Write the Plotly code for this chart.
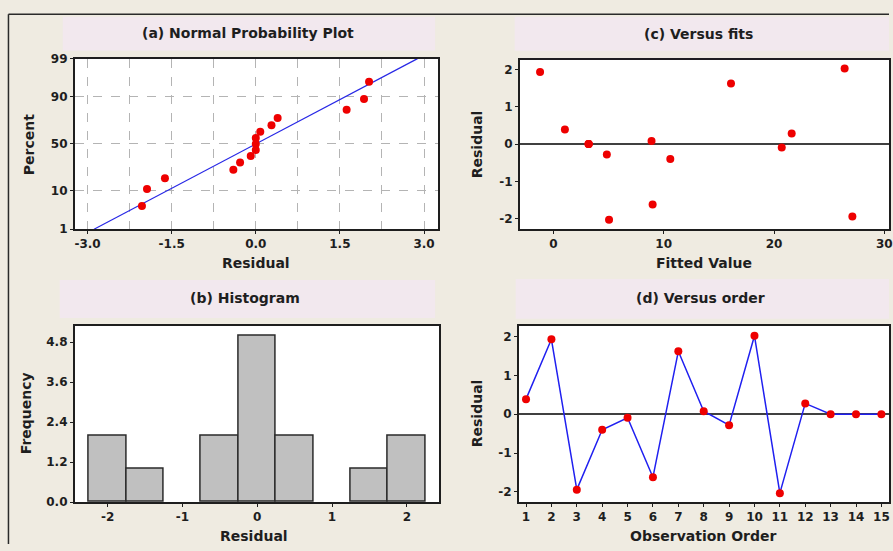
import plotly.graph_objects as go
from statistics import NormalDist

# ---------------- data ----------------
order = list(range(1, 16))
residuals = [0.39, 1.93, -1.94, -0.40, -0.09, -1.62, 1.62, 0.08, -0.28, 2.02, -2.03, 0.28, 0.0, 0.0, 0.0]
fitted = [1.05, -1.2, 27.1, 10.6, 20.7, 9.0, 16.1, 8.9, 4.85, 26.4, 5.05, 21.6, 3.2, 3.2, 3.2]

# normal probability plot (percent, sorted residuals)
prob_residuals = sorted(residuals)
prob_percent = [4.5, 11.0, 17.5, 24.0, 30.5, 37.0, 43.5, 50.0, 56.5, 63.0, 69.5, 76.0, 82.5, 89.0, 95.5]
fit_mean = 0.0
fit_sd = 1.24
fit_percent_ends = [1, 99]
percent_ticks = [1, 10, 50, 90, 99]

# histogram bins
hist_start, hist_end, hist_size = -2.25, 2.25, 0.5
freq_ticks = [0.0, 1.2, 2.4, 3.6, 4.8]

# ---------------- styling ----------------
W, H = 893, 551
BG = "#efebe1"
PINK = "#f2e8ee"
DARK = "#1e1e1e"
FONT = "DejaVu Sans"
TICKFONT = dict(family=FONT, size=12, color=DARK, weight="bold")
TITLEFONT = dict(family=FONT, size=14, color=DARK, weight="bold")

nd = NormalDist()
def z(p):
    return nd.inv_cdf(p / 100.0)

def px(x):
    return x / W

def py(y):
    return 1 - y / H

fig = go.Figure()

# (a) Normal probability plot
fig.add_trace(go.Scatter(
    x=[fit_mean + fit_sd * z(p) for p in fit_percent_ends],
    y=[z(p) for p in fit_percent_ends],
    mode="lines", line=dict(color="#2828e6", width=1.2),
    xaxis="x", yaxis="y", showlegend=False, hoverinfo="skip"))
fig.add_trace(go.Scatter(
    x=prob_residuals, y=[z(p) for p in prob_percent],
    mode="markers", marker=dict(color="#ee0000", size=8),
    xaxis="x", yaxis="y", showlegend=False))

# (c) Versus fits
fig.add_trace(go.Scatter(
    x=fitted, y=residuals, mode="markers",
    marker=dict(color="#ee0000", size=8),
    xaxis="x2", yaxis="y2", showlegend=False))

# (b) Histogram
fig.add_trace(go.Histogram(
    x=residuals,
    xbins=dict(start=hist_start, end=hist_end, size=hist_size),
    marker=dict(color="#c0c0c0", line=dict(color="#2a2a2a", width=1.5)),
    xaxis="x3", yaxis="y3", showlegend=False))

# (d) Versus order
fig.add_trace(go.Scatter(
    x=order, y=residuals, mode="lines+markers",
    line=dict(color="#2020f0", width=1.5),
    marker=dict(color="#ee0000", size=8),
    xaxis="x4", yaxis="y4", showlegend=False))

def ax(domain, rng, **kw):
    d = dict(domain=domain, range=rng, showline=True, mirror=True,
             linecolor=DARK, linewidth=1.5, ticks="outside", ticklen=3,
             tickcolor=DARK, tickwidth=1, tickfont=TICKFONT,
             showgrid=False, zeroline=False, ticklabeloverflow="allow")
    d.update(kw)
    return d

res_ticks = [-2, -1, 0, 1, 2]
res_text = ["-2", "-1", "0", "1", "2"]
a_xticks = [-3.0, -1.5, 0.0, 1.5, 3.0]

fig.update_layout(
    width=W, height=H,
    margin=dict(l=0, r=0, t=0, b=0),
    paper_bgcolor=BG, plot_bgcolor="white",
    bargap=0,
    xaxis=ax([px(75), px(440)], [-3.23, 3.25],
             tickvals=a_xticks, ticktext=["-3.0", "-1.5", "0.0", "1.5", "3.0"],
             showgrid=True, gridcolor="#b4b4b4", griddash="dash", gridwidth=1,
             minor=dict(dtick=0.75, tick0=0, showgrid=True, gridcolor="#b4b4b4",
                        griddash="dash", gridwidth=1, ticks="")),
    yaxis=ax([py(228), py(53)], [z(1), z(99)],
             tickvals=[z(p) for p in percent_ticks],
             ticktext=[str(p) for p in percent_ticks],
             showgrid=True, gridcolor="#b4b4b4", griddash="dash", gridwidth=1),
    xaxis2=ax([px(522), 1.0], [-3.05, 30.42], tickvals=[0, 10, 20, 30],
              ticktext=["0", "10", "20", "30"], anchor="y2"),
    yaxis2=ax([py(228), py(54)], [-2.28, 2.26], tickvals=res_ticks, ticktext=res_text,
              anchor="x2", zeroline=True, zerolinecolor="#404040", zerolinewidth=1.5),
    xaxis3=ax([px(75), px(441)], [-2.44, 2.43], tickvals=res_ticks, ticktext=res_text,
              anchor="y3"),
    yaxis3=ax([py(508), py(327)], [0, 5.29], tickvals=freq_ticks,
              ticktext=["%.1f" % v for v in freq_ticks], anchor="x3"),
    xaxis4=ax([px(521), 1.0], [0.71, 15.3], tickvals=order,
              ticktext=[str(o) for o in order], anchor="y4"),
    yaxis4=ax([py(508), py(327)], [-2.26, 2.28], tickvals=res_ticks, ticktext=res_text,
              anchor="x4", zeroline=True, zerolinecolor="#404040", zerolinewidth=1.5),
)

shapes = []
# pink title bands
for (x0, x1, y0, y1) in [(63, 437, 10, 45), (517, 893, 10, 45),
                         (60, 437, 280, 319), (518, 893, 279, 320)]:
    shapes.append(dict(type="rect", xref="paper", yref="paper",
                       x0=px(x0), x1=px(x1), y0=py(y1), y1=py(y0),
                       fillcolor=PINK, line=dict(width=0), layer="below"))
# outer frame lines
shapes.append(dict(type="line", xref="paper", yref="paper", x0=px(8.5), x1=px(8.5),
                   y0=0, y1=py(7.5), line=dict(color="#2a2a2a", width=1.5)))
shapes.append(dict(type="line", xref="paper", yref="paper", x0=px(8.5), x1=1,
                   y0=py(7.5), y1=py(7.5), line=dict(color="#2a2a2a", width=1.5)))
fig.update_layout(shapes=shapes)

annotations = []
def txt(text, x, y, angle=0):
    annotations.append(dict(text=text, x=px(x), y=py(y), xref="paper", yref="paper",
                            showarrow=False, textangle=angle, font=TITLEFONT,
                            xanchor="center", yanchor="middle"))

txt("(a) Normal Probability Plot", 249, 27)
txt("(c) Versus fits", 702, 28)
txt("(b) Histogram", 246, 299)
txt("(d) Versus order", 704, 299)
txt("Residual", 257, 263)
txt("Fitted Value", 707, 263)
txt("Residual", 255, 543)
txt("Observation Order", 707, 543)
txt("Percent", 30, 141, -90)
txt("Residual", 480, 141, -90)
txt("Frequency", 27, 417, -90)
txt("Residual", 480, 417, -90)
fig.update_layout(annotations=annotations)

fig.write_html(
    "out.html",
    config={"displayModeBar": False},
    post_script="document.body.style.margin='0px';document.body.style.overflow='hidden';",
)
